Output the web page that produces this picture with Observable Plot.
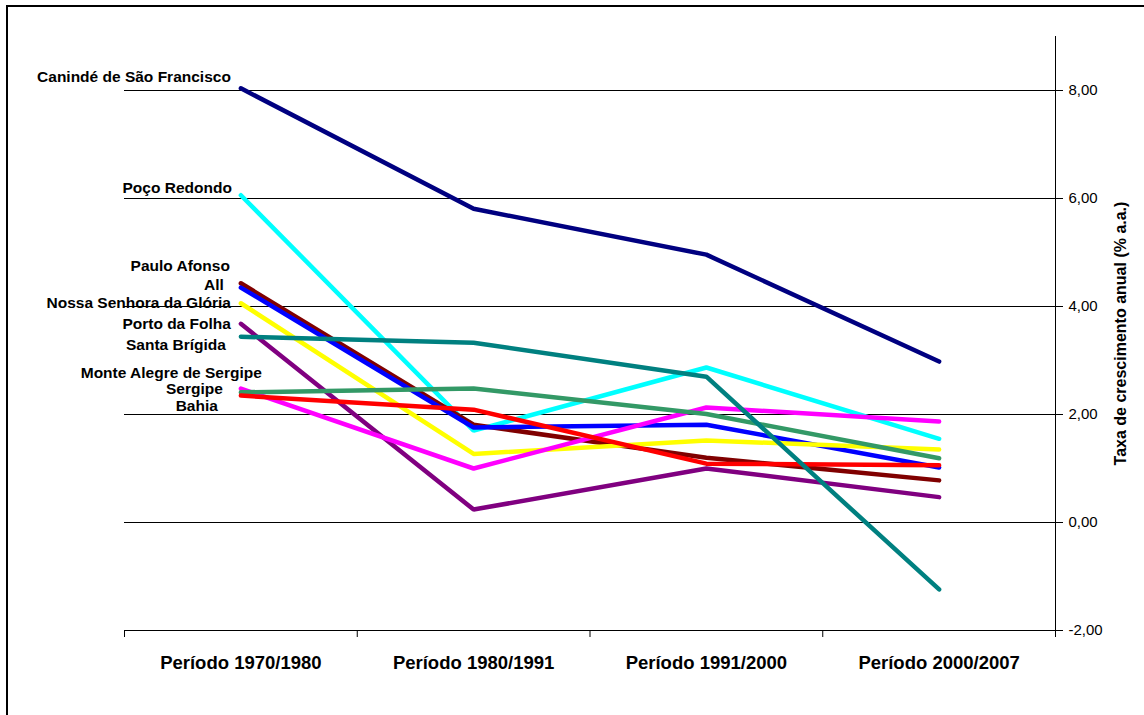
<!DOCTYPE html>
<html>
<head>
<meta charset="utf-8">
<script src="https://cdn.jsdelivr.net/npm/d3@7"></script>
<script src="https://cdn.jsdelivr.net/npm/@observablehq/plot@0.6"></script>
<style>
  html, body { margin: 0; padding: 0; background: #fff; overflow: hidden; }
  #wrap { position: relative; width: 1144px; height: 715px; }
  #border { position: absolute; left: 6px; top: 5px; width: 1200px; height: 800px;
            border: 2px solid #000; box-sizing: border-box; pointer-events: none; }
  svg { font-family: "Liberation Sans", Arial, sans-serif; }
</style>
</head>
<body>
<div id="wrap"><div id="border"></div></div>
<script>
// Periods on the category axis
const periods = ["Período 1970/1980", "Período 1980/1991", "Período 1991/2000", "Período 2000/2007"];

// Annual growth rate (% a.a.) per place, one value per period
const caninde      = [8.04, 5.81, 4.96, 2.98];
const pocoRedondo  = [6.06, 1.70, 2.87, 1.55];
const pauloAfonso  = [4.43, 1.81, 1.20, 0.78];
const all          = [4.35, 1.76, 1.81, 1.02];
const nossaSenhora = [4.06, 1.27, 1.52, 1.35];
const portoFolha   = [3.68, 0.24, 1.00, 0.47];
const santaBrigida = [3.44, 3.33, 2.70, -1.24];
const monteAlegre  = [2.41, 2.48, 2.01, 1.19];
const sergipe      = [2.48, 1.00, 2.13, 1.87];
const bahia        = [2.35, 2.09, 1.09, 1.06];

const yTicks = [-2, 0, 2, 4, 6, 8];
const yTitle = "Taxa de crescimento anual (% a.a.)";

// Series in drawing order: name, values, colour, label nudge (px)
const series = [
  {name: "Canindé de São Francisco", values: caninde,      color: "#000080", dx: -10, dy: -11},
  {name: "Poço Redondo",             values: pocoRedondo,  color: "#00FFFF", dx: -9,  dy: -7},
  {name: "Paulo Afonso",             values: pauloAfonso,  color: "#800000", dx: -11, dy: -17},
  {name: "All",                      values: all,          color: "#0000FF", dx: -17, dy: -3},
  {name: "Nossa Senhora da Glória",  values: nossaSenhora, color: "#FFFF00", dx: -10, dy: 0},
  {name: "Porto da Folha",           values: portoFolha,   color: "#800080", dx: -10, dy: 0},
  {name: "Sergipe",                  values: sergipe,      color: "#FF00FF", dx: -18, dy: 0},
  {name: "Monte Alegre de Sergipe",  values: monteAlegre,  color: "#339966", dx: 21,  dy: -19},
  {name: "Bahia",                    values: bahia,        color: "#FF0000", dx: -23, dy: 10},
  {name: "Santa Brígida",            values: santaBrigida, color: "#008080", dx: -15, dy: 8}
];

const rows = series.flatMap(s => s.values.map((v, i) => ({name: s.name, period: i, value: v, color: s.color})));

const fmt = d => d.toFixed(2).replace(".", ",");

const marks = [
  // horizontal gridlines
  Plot.ruleY([0, 2, 4, 6, 8], {stroke: "#000", strokeWidth: 1}),
  // category axis baseline and boundary ticks
  Plot.ruleY([-2], {stroke: "#000", strokeWidth: 1}),
  Plot.ruleX([-0.5, 0.5, 1.5, 2.5, 3.5], {y1: -2, y2: -2 - 7 / 54, stroke: "#000", strokeWidth: 1}),
  // value axis line on the right
  Plot.ruleX([3.5], {y1: -2, y2: 9, stroke: "#000", strokeWidth: 1}),
  Plot.axisY({anchor: "right", ticks: yTicks, tickFormat: fmt, tickSize: 7, tickPadding: 6,
              fontSize: 15, label: null, color: "#000"}),
  Plot.text([yTitle], {frameAnchor: "right", dx: 65, rotate: -90, textAnchor: "middle", fontSize: 16,
                       fontWeight: "bold", fill: "#000", lineAnchor: "middle"}),
  // category labels
  Plot.text(periods, {x: (d, i) => i, frameAnchor: "bottom", dy: 33, fontSize: 18.5, fontWeight: "bold",
                      fill: "#000", lineAnchor: "middle"}),
  // one line per place
  ...series.map(s => Plot.line(rows.filter(r => r.name === s.name), {
    x: "period", y: "value", stroke: s.color, strokeWidth: 4.5, strokeLinecap: "round", strokeLinejoin: "miter"
  })),
  // series names next to the first period
  ...series.map(s => Plot.text([s], {
    x: 0, y: d => d.values[0], text: "name", textAnchor: "end", dx: s.dx, dy: s.dy,
    fontSize: 15.5, fontWeight: "bold", fill: "#000", lineAnchor: "middle"
  }))
];

const chart = Plot.plot({
  width: 1144,
  height: 715,
  marginLeft: 124,
  marginRight: 89,
  marginTop: 36,
  marginBottom: 85,
  x: {type: "linear", domain: [-0.5, 3.5], axis: null},
  y: {type: "linear", domain: [-2, 9], axis: null},
  style: {background: "transparent", fontFamily: "'Liberation Sans', Arial, sans-serif", color: "#000"},
  marks
});

document.getElementById("wrap").prepend(chart);
</script>
</body>
</html>
